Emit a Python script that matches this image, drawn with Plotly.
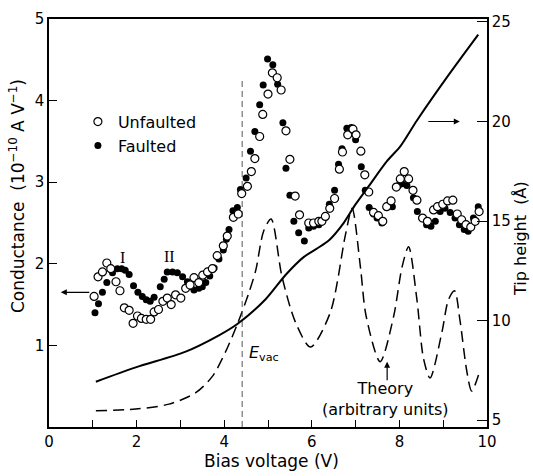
import plotly.graph_objects as go

# ---- data ----
faulted_v = [1.05, 1.13, 1.22, 1.32, 1.45, 1.56, 1.66, 1.74, 1.83, 1.93,
             2.03, 2.13, 2.22, 2.31, 2.40, 2.54, 2.63, 2.70, 2.82, 2.93,
             3.05, 3.16, 3.23, 3.31, 3.42, 3.50, 3.58, 3.67, 3.77, 3.88,
             3.98, 4.05, 4.11, 4.20, 4.30, 4.37, 4.50, 4.60, 4.70, 4.81,
             4.89, 4.99, 5.11, 5.22, 5.34, 5.41, 5.50, 5.59, 5.70, 5.83,
             5.93, 6.04, 6.16, 6.29, 6.40, 6.52, 6.61, 6.69, 6.80, 6.90,
             7.00, 7.13, 7.22, 7.31, 7.41, 7.49, 7.60, 7.71, 7.84, 7.98,
             8.06, 8.17, 8.32, 8.41, 8.51, 8.62, 8.72, 8.82, 8.93, 9.04,
             9.16, 9.27, 9.37, 9.48, 9.57, 9.69, 9.80]
faulted_g = [1.40, 1.51, 1.65, 1.77, 1.89, 1.94, 1.94, 1.92, 1.87, 1.73,
             1.65, 1.60, 1.56, 1.54, 1.59, 1.72, 1.81, 1.90, 1.90, 1.89,
             1.84, 1.78, 1.72, 1.68, 1.70, 1.72, 1.77, 1.85, 1.95, 2.06,
             2.17, 2.30, 2.42, 2.65, 2.69, 2.91, 3.05, 3.38, 3.62, 3.95,
             4.19, 4.51, 4.44, 4.20, 3.73, 3.17, 2.84, 2.52, 2.38, 2.28,
             2.44, 2.46, 2.48, 2.56, 2.73, 2.90, 3.22, 3.41, 3.66, 3.67,
             3.52, 3.19, 2.90, 2.69, 2.61, 2.56, 2.50, 2.70, 2.70, 2.96,
             2.98, 2.96, 2.81, 2.64, 2.56, 2.48, 2.46, 2.52, 2.64, 2.68,
             2.63, 2.56, 2.48, 2.42, 2.40, 2.56, 2.70]

unfaulted_v = [1.03, 1.12, 1.22, 1.32, 1.41, 1.53, 1.62, 1.72, 1.83, 1.92,
               2.02, 2.11, 2.22, 2.32, 2.40, 2.50, 2.60, 2.70, 2.79, 2.89,
               3.01, 3.12, 3.22, 3.31, 3.42, 3.51, 3.62, 3.73, 3.84, 3.98,
               4.07, 4.21, 4.32, 4.40, 4.53, 4.62, 4.70, 4.81, 4.88, 5.00,
               5.10, 5.21, 5.30, 5.41, 5.50, 5.62, 5.72, 5.93, 6.04, 6.16,
               6.23, 6.31, 6.41, 6.52, 6.63, 6.70, 6.82, 6.94, 7.01, 7.12,
               7.21, 7.30, 7.41, 7.52, 7.62, 7.71, 7.81, 7.93, 8.02, 8.11,
               8.21, 8.31, 8.40, 8.53, 8.64, 8.78, 8.87, 8.99, 9.10, 9.22,
               9.32, 9.42, 9.52, 9.63, 9.73, 9.82]
unfaulted_g = [1.60, 1.84, 1.90, 2.01, 1.94, 1.78, 1.67, 1.46, 1.43, 1.27,
               1.36, 1.33, 1.32, 1.32, 1.41, 1.44, 1.54, 1.58, 1.50, 1.62,
               1.58, 1.70, 1.74, 1.83, 1.77, 1.86, 1.90, 1.94, 2.10, 2.22,
               2.34, 2.57, 2.61, 2.86, 2.95, 3.13, 3.29, 3.56, 3.83, 4.08,
               4.34, 4.28, 4.13, 3.63, 3.28, 2.83, 2.60, 2.50, 2.50, 2.52,
               2.52, 2.58, 2.68, 2.80, 3.16, 3.37, 3.58, 3.65, 3.58, 3.38,
               3.09, 2.88, 2.63, 2.59, 2.52, 2.70, 2.77, 2.94, 3.04, 3.13,
               3.04, 2.90, 2.78, 2.56, 2.52, 2.66, 2.70, 2.73, 2.77, 2.78,
               2.61, 2.54, 2.48, 2.45, 2.52, 2.64]

tip_v = [1.07, 1.98, 3.12, 3.88, 4.30, 4.94, 5.40, 5.82, 6.12, 6.40,
         6.73, 6.99, 7.30, 7.72, 8.02, 8.40, 9.08, 9.80]
tip_z = [6.93, 7.65, 8.44, 9.26, 9.83, 11.06, 12.29, 13.20, 13.62, 14.05,
         14.91, 15.81, 16.75, 18.02, 18.75, 20.05, 22.2, 24.36]

theory_v = [1.07, 1.98, 2.74, 3.35, 3.73, 4.03, 4.30, 4.56, 4.72, 4.90,
            5.07, 5.32, 5.63, 5.97, 6.42, 6.77, 6.92, 7.11, 7.24, 7.56,
            7.87, 8.06, 8.21, 8.40, 8.55, 8.70, 8.97, 9.12, 9.26, 9.38,
            9.54, 9.65, 9.82]
theory_g = [0.20, 0.22, 0.28, 0.42, 0.62, 0.92, 1.26, 1.64, 1.92, 2.40,
            2.55, 1.84, 1.28, 0.98, 1.40, 2.36, 2.68, 1.96, 1.36, 0.80,
            1.36, 1.96, 2.21, 1.56, 0.84, 0.60, 1.16, 1.56, 1.67, 1.32,
            0.68, 0.44, 0.66]

EVAC_V = 4.41
EVAC_TOP = 4.26

x_ticks = list(range(0, 11))
x_ticklabels = ["0", "", "2", "", "4", "", "6", "", "8", "", "10"]
g_ticks = [1, 2, 3, 4, 5]
z_ticks = [5, 10, 15, 20, 25]

FONT = "DejaVu Sans"

fig = go.Figure()

fig.add_trace(go.Scatter(
    x=theory_v, y=theory_g, mode="lines", showlegend=False, hoverinfo="skip",
    line=dict(color="black", width=1.5, dash="11px,6px", shape="spline", smoothing=0.8)))

fig.add_trace(go.Scatter(
    x=[EVAC_V, EVAC_V], y=[0, EVAC_TOP], mode="lines", showlegend=False, hoverinfo="skip",
    line=dict(color="#555555", width=1, dash="6px,4px")))

fig.add_trace(go.Scatter(
    x=faulted_v, y=faulted_g, mode="markers", name="Faulted", legendrank=2,
    marker=dict(symbol="circle", size=7, color="black")))

fig.add_trace(go.Scatter(
    x=unfaulted_v, y=unfaulted_g, mode="markers", name="Unfaulted", legendrank=1,
    marker=dict(symbol="circle", size=8, color="white", line=dict(color="black", width=1.2))))

fig.add_trace(go.Scatter(
    x=tip_v, y=tip_z, yaxis="y2", mode="lines", showlegend=False, hoverinfo="skip",
    line=dict(color="black", width=2, shape="spline", smoothing=0.8)))

axis_common = dict(showgrid=False, zeroline=False, showline=True, linecolor="black",
                   linewidth=1.5, tickcolor="black", tickwidth=1.2,
                   tickfont=dict(family=FONT, size=15, color="black"))

fig.update_layout(
    width=533, height=476,
    margin=dict(l=49, r=46, t=10, b=49),
    plot_bgcolor="white", paper_bgcolor="white",
    font=dict(family=FONT, size=16, color="black"),
    xaxis=dict(range=[0, 10], tickvals=x_ticks, ticktext=x_ticklabels,
               ticks="inside", ticklen=7, mirror=True, **axis_common),
    yaxis=dict(range=[0, 5], tickvals=g_ticks, ticks="inside", ticklen=8, **axis_common),
    yaxis2=dict(range=[4.656, 25.147], overlaying="y", side="right", anchor="x",
                tickvals=z_ticks, ticks="inside", ticklen=10, **axis_common),
    legend=dict(x=0.066, y=0.79, xanchor="left", yanchor="top",
                bgcolor="rgba(0,0,0,0)", font=dict(family=FONT, size=16),
                itemwidth=30, tracegroupgap=0),
    showlegend=True,
)

annotations = [
    dict(text="Bias voltage (V)", xref="paper", yref="paper", x=0.508, y=-0.084,
         xanchor="center", yanchor="middle", showarrow=False, font=dict(size=17)),
    dict(text="Conductance  (10<sup>−10</sup> A V<sup>−1</sup>)", xref="paper", yref="paper",
         x=-0.073, y=0.566, xanchor="center", yanchor="middle", textangle=-90,
         showarrow=False, font=dict(size=17)),
    dict(text="Tip height  (Å)", xref="paper", yref="paper", x=1.075, y=0.463,
         xanchor="center", yanchor="middle", textangle=-90, showarrow=False,
         font=dict(size=16)),
    dict(text="I", x=1.68, y=2.08, xref="x", yref="y", showarrow=False,
         font=dict(family="Liberation Serif", size=16)),
    dict(text="II", x=2.76, y=2.09, xref="x", yref="y", showarrow=False,
         font=dict(family="Liberation Serif", size=16)),
    dict(text="<i>E</i><sub>vac</sub>", x=4.53, y=0.90, xref="x", yref="y",
         xanchor="left", showarrow=False, font=dict(size=16)),
    dict(text="Theory<br>(arbitrary units)", x=7.68, y=0.34, xref="x", yref="y",
         showarrow=False, font=dict(size=16)),
    dict(text="", x=7.72, y=0.80, xref="x", yref="y", ax=0, ay=20,
         showarrow=True, arrowhead=2, arrowsize=1, arrowwidth=1.2, arrowcolor="black"),
    dict(text="", x=0.27, y=1.65, xref="x", yref="y", ax=30, ay=0,
         showarrow=True, arrowhead=2, arrowsize=1, arrowwidth=1.2, arrowcolor="black"),
    dict(text="", x=9.38, y=20.0, xref="x", yref="y2", ax=-33, ay=0,
         showarrow=True, arrowhead=2, arrowsize=1, arrowwidth=1.2, arrowcolor="black"),
]
fig.update_layout(annotations=annotations)

fig.write_html("out.html")
